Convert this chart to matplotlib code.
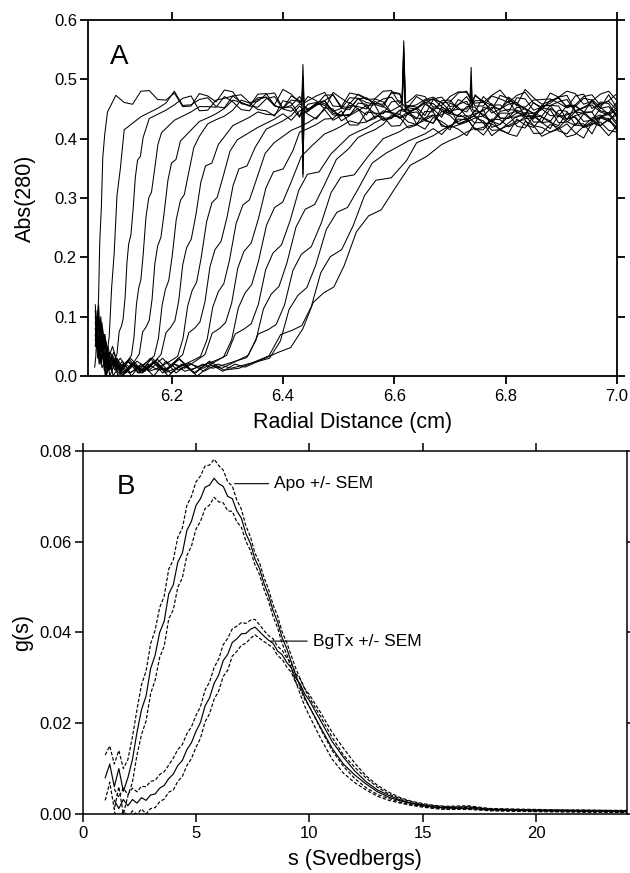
import numpy as np
import matplotlib
matplotlib.use('Agg')
import matplotlib.pyplot as plt

plt.rcParams['font.family'] = ['Liberation Sans', 'DejaVu Sans']

# ---------------- panel A: absorbance scans ----------------
# plateau sample radii (cm); even scans use the first, odd scans the second
grid_even = [6.10, 6.13, 6.16, 6.19, 6.22, 6.25, 6.28, 6.31, 6.34, 6.37, 6.40,
             6.43, 6.46, 6.49, 6.52, 6.55, 6.58, 6.61, 6.64, 6.67, 6.70, 6.73,
             6.76, 6.79, 6.82, 6.85, 6.88, 6.91, 6.94, 6.97, 7.00]
grid_odd = [6.115, 6.145, 6.175, 6.205, 6.235, 6.265, 6.295, 6.325, 6.355,
            6.385, 6.415, 6.445, 6.475, 6.505, 6.535, 6.565, 6.595, 6.625,
            6.655, 6.685, 6.715, 6.745, 6.775, 6.805, 6.835, 6.865, 6.895,
            6.925, 6.955, 6.985, 7.00]

# meniscus + boundary part of each scan
scan_front_r = [
    [6.062, 6.064, 6.0665, 6.069, 6.071, 6.074, 6.0765, 6.080, 6.085],
    [6.063, 6.068, 6.071, 6.075, 6.083, 6.088, 6.0925, 6.097, 6.102, 6.108, 6.115],
    [6.064, 6.068, 6.073, 6.079, 6.085, 6.092, 6.102, 6.110, 6.1165, 6.123, 6.131, 6.139, 6.149],
    [6.064, 6.069, 6.074, 6.080, 6.087, 6.096, 6.109, 6.123, 6.1325, 6.141, 6.149, 6.159, 6.169, 6.182],
    [6.065, 6.070, 6.075, 6.082, 6.090, 6.102, 6.114, 6.126, 6.142, 6.1545, 6.165, 6.175, 6.187, 6.200, 6.216],
    [6.063, 6.067, 6.072, 6.078, 6.086, 6.095, 6.108, 6.124, 6.142, 6.162, 6.1765, 6.189, 6.201, 6.216, 6.230, 6.250],
    [6.064, 6.069, 6.074, 6.081, 6.089, 6.100, 6.115, 6.132, 6.146, 6.159, 6.181, 6.1985, 6.213, 6.227, 6.244, 6.261, 6.284],
    [6.063, 6.068, 6.073, 6.079, 6.087, 6.098, 6.112, 6.128, 6.145, 6.160, 6.175, 6.201, 6.2205, 6.237, 6.253, 6.2725, 6.292, 6.318],
    [6.064, 6.069, 6.075, 6.083, 6.092, 6.106, 6.122, 6.140, 6.158, 6.175, 6.192, 6.220, 6.242, 6.260, 6.278, 6.300, 6.321, 6.350],
    [6.063, 6.068, 6.072, 6.079, 6.086, 6.097, 6.112, 6.130, 6.150, 6.170, 6.190, 6.208, 6.240, 6.264, 6.284, 6.304, 6.328, 6.352, 6.384],
    [6.064, 6.070, 6.076, 6.084, 6.094, 6.110, 6.128, 6.148, 6.168, 6.188, 6.206, 6.224, 6.260, 6.286, 6.308, 6.330, 6.356, 6.383, 6.418],
    [6.063, 6.067, 6.072, 6.080, 6.090, 6.104, 6.122, 6.142, 6.162, 6.184, 6.205, 6.224, 6.241, 6.279, 6.308, 6.332, 6.356, 6.385, 6.414, 6.452],
    [6.064, 6.069, 6.074, 6.082, 6.092, 6.108, 6.126, 6.146, 6.168, 6.190, 6.212, 6.234, 6.257, 6.299, 6.330, 6.356, 6.382, 6.413, 6.444, 6.486],
    [6.063, 6.068, 6.073, 6.081, 6.091, 6.106, 6.124, 6.145, 6.167, 6.190, 6.213, 6.236, 6.256, 6.274, 6.318, 6.3515, 6.379, 6.407, 6.440, 6.474, 6.518],
    [6.064, 6.070, 6.076, 6.085, 6.096, 6.112, 6.131, 6.152, 6.175, 6.198, 6.222, 6.246, 6.270, 6.290, 6.338, 6.3735, 6.403, 6.433, 6.469, 6.504, 6.552],
    [6.063, 6.068, 6.073, 6.080, 6.089, 6.102, 6.118, 6.138, 6.160, 6.184, 6.208, 6.232, 6.258, 6.283, 6.307, 6.357, 6.3955, 6.427, 6.459, 6.497, 6.535, 6.586],
    [6.064, 6.069, 6.075, 6.083, 6.094, 6.108, 6.126, 6.147, 6.170, 6.194, 6.218, 6.243, 6.268, 6.294, 6.321, 6.375, 6.4165, 6.451, 6.485, 6.526, 6.567, 6.622],
    [6.063, 6.068, 6.073, 6.080, 6.090, 6.104, 6.121, 6.142, 6.165, 6.189, 6.214, 6.240, 6.266, 6.292, 6.314, 6.332, 6.392, 6.436, 6.473, 6.510, 6.554, 6.599, 6.658],
]
scan_front_abs = [
    [0.015, 0.033, 0.085, 0.132, 0.224, 0.285, 0.368, 0.407, 0.445],
    [0.07, 0.03, 0.05, 0.014, 0.029, 0.066, 0.150, 0.207, 0.304, 0.349, 0.415],
    [0.11, 0.05, 0.08, 0.02, 0.035, 0.014, 0.037, 0.084, 0.131, 0.222, 0.281, 0.364, 0.402],
    [0.06, 0.10, 0.04, 0.07, 0.01, 0.025, 0.014, 0.028, 0.065, 0.148, 0.204, 0.300, 0.344, 0.410],
    [0.09, 0.03, 0.07, 0.00, 0.03, 0.01, 0.022, 0.014, 0.037, 0.083, 0.129, 0.219, 0.277, 0.359, 0.396],
    [0.12, 0.05, 0.09, 0.03, 0.05, 0.00, 0.02, 0.005, 0.014, 0.028, 0.064, 0.146, 0.201, 0.296, 0.339, 0.404],
    [0.05, 0.09, 0.02, 0.06, 0.01, 0.03, 0.005, 0.02, 0.01, 0.013, 0.036, 0.082, 0.127, 0.216, 0.273, 0.354, 0.390],
    [0.08, 0.03, 0.10, 0.01, 0.04, 0.01, 0.025, 0.0, 0.02, 0.008, 0.013, 0.027, 0.063, 0.144, 0.198, 0.292, 0.334, 0.398],
    [0.10, 0.04, 0.07, 0.0, 0.03, 0.01, 0.025, 0.005, 0.02, 0.01, 0.013, 0.036, 0.081, 0.125, 0.213, 0.269, 0.349, 0.385],
    [0.06, 0.11, 0.04, 0.07, 0.01, 0.03, 0.005, 0.022, 0.008, 0.024, 0.006, 0.013, 0.027, 0.062, 0.142, 0.195, 0.288, 0.330, 0.393],
    [0.08, 0.02, 0.06, 0.01, 0.035, 0.0, 0.02, 0.005, 0.025, 0.01, 0.02, 0.013, 0.036, 0.080, 0.123, 0.210, 0.265, 0.344, 0.380],
    [0.11, 0.05, 0.08, 0.02, 0.04, 0.005, 0.025, 0.01, 0.03, 0.005, 0.02, 0.008, 0.013, 0.026, 0.061, 0.140, 0.193, 0.284, 0.325, 0.388],
    [0.07, 0.12, 0.03, 0.06, 0.01, 0.03, 0.005, 0.02, 0.0, 0.025, 0.01, 0.02, 0.013, 0.035, 0.079, 0.121, 0.207, 0.262, 0.340, 0.374],
    [0.09, 0.04, 0.07, 0.0, 0.03, 0.01, 0.028, 0.005, 0.022, 0.008, 0.03, 0.01, 0.02, 0.013, 0.026, 0.060, 0.138, 0.190, 0.281, 0.321, 0.383],
    [0.10, 0.03, 0.08, 0.01, 0.04, 0.0, 0.02, 0.008, 0.028, 0.005, 0.02, 0.0, 0.018, 0.013, 0.035, 0.078, 0.120, 0.205, 0.258, 0.335, 0.369],
    [0.05, 0.10, 0.02, 0.07, 0.0, 0.03, 0.005, 0.025, 0.01, 0.03, 0.005, 0.022, 0.008, 0.02, 0.013, 0.025, 0.059, 0.136, 0.187, 0.276, 0.315, 0.376],
    [0.08, 0.04, 0.09, 0.02, 0.05, 0.005, 0.03, 0.01, 0.025, 0.0, 0.02, 0.005, 0.025, 0.01, 0.013, 0.034, 0.077, 0.117, 0.201, 0.253, 0.330, 0.363],
    [0.10, 0.05, 0.08, 0.01, 0.04, 0.0, 0.025, 0.005, 0.03, 0.01, 0.028, 0.005, 0.022, 0.008, 0.02, 0.015, 0.040, 0.080, 0.140, 0.186, 0.270, 0.313, 0.370],
]
# jagged points in between the boundary points (scans 0 and 1 are too steep)
scan_teeth_r = [
    [], [],
    [6.106, 6.113, 6.120, 6.127, 6.135, 6.144],
    [6.128, 6.137, 6.145, 6.154, 6.164, 6.1755],
    [6.148, 6.160, 6.170, 6.181, 6.1935, 6.208],
    [6.169, 6.183, 6.195, 6.2085, 6.223, 6.240],
    [6.190, 6.206, 6.220, 6.2355, 6.2525, 6.2725],
    [6.211, 6.229, 6.245, 6.263, 6.282, 6.305],
    [6.231, 6.251, 6.269, 6.289, 6.3105, 6.3355],
    [6.252, 6.274, 6.294, 6.316, 6.340, 6.368],
    [6.273, 6.297, 6.319, 6.343, 6.3695, 6.4005],
    [6.2935, 6.320, 6.344, 6.3705, 6.3995, 6.433],
    [6.3145, 6.343, 6.369, 6.3975, 6.4285, 6.465],
    [6.335, 6.365, 6.393, 6.4235, 6.457, 6.496],
    [6.356, 6.388, 6.418, 6.451, 6.4865, 6.528],
    [6.376, 6.411, 6.443, 6.478, 6.516, 6.5605],
    [6.396, 6.434, 6.468, 6.5055, 6.5465, 6.5945],
    [6.414, 6.4545, 6.4915, 6.532, 6.5765, 6.6285],
]
scan_teeth_abs = [
    [], [],
    [0.075, 0.096, 0.192, 0.238, 0.335, 0.370],
    [0.035, 0.121, 0.163, 0.267, 0.310, 0.390],
    [0.074, 0.094, 0.189, 0.234, 0.330, 0.365],
    [0.034, 0.119, 0.161, 0.264, 0.306, 0.385],
    [0.073, 0.093, 0.187, 0.231, 0.326, 0.359],
    [0.033, 0.118, 0.158, 0.260, 0.301, 0.379],
    [0.073, 0.091, 0.184, 0.227, 0.321, 0.354],
    [0.033, 0.116, 0.156, 0.257, 0.297, 0.375],
    [0.072, 0.090, 0.182, 0.224, 0.317, 0.349],
    [0.032, 0.115, 0.154, 0.254, 0.293, 0.370],
    [0.071, 0.088, 0.179, 0.221, 0.313, 0.344],
    [0.031, 0.113, 0.151, 0.251, 0.289, 0.365],
    [0.071, 0.087, 0.178, 0.218, 0.309, 0.339],
    [0.030, 0.112, 0.149, 0.247, 0.284, 0.359],
    [0.070, 0.085, 0.174, 0.213, 0.304, 0.334],
    [0.048, 0.124, 0.150, 0.243, 0.280, 0.355],
]
# plateau values on the last points of the scan's own grid
scan_plateau_abs = [
    [0.473, 0.458, 0.481, 0.465, 0.454, 0.476, 0.462, 0.479, 0.456, 0.470, 0.483, 0.460, 0.472, 0.455, 0.477, 0.466,
     0.480, 0.459, 0.474, 0.453, 0.471, 0.478, 0.461, 0.482, 0.457, 0.469, 0.463, 0.480, 0.458, 0.475, 0.464],
    [0.437, 0.451, 0.480, 0.457, 0.469, 0.452, 0.474, 0.463, 0.477, 0.456, 0.471, 0.450, 0.468, 0.475, 0.458, 0.479,
     0.454, 0.466, 0.460, 0.477, 0.455, 0.472, 0.461, 0.478, 0.453, 0.470, 0.457, 0.474, 0.464, 0.476],
    [0.434, 0.448, 0.468, 0.447, 0.465, 0.472, 0.455, 0.476, 0.451, 0.463, 0.457, 0.474, 0.452, 0.469, 0.458, 0.475,
     0.450, 0.467, 0.454, 0.471, 0.461, 0.473, 0.456, 0.465, 0.467, 0.452, 0.475, 0.459, 0.448],
    [0.431, 0.445, 0.454, 0.471, 0.449, 0.466, 0.455, 0.472, 0.447, 0.464, 0.451, 0.468, 0.458, 0.470, 0.453, 0.462,
     0.464, 0.449, 0.472, 0.456, 0.445, 0.467, 0.453, 0.470, 0.447, 0.461, 0.474, 0.451],
    [0.429, 0.442, 0.465, 0.455, 0.467, 0.450, 0.459, 0.461, 0.446, 0.469, 0.453, 0.442, 0.464, 0.450, 0.467, 0.444,
     0.458, 0.471, 0.448, 0.460, 0.443, 0.465, 0.454, 0.468, 0.447, 0.462],
    [0.425, 0.438, 0.465, 0.449, 0.438, 0.460, 0.446, 0.463, 0.440, 0.454, 0.467, 0.444, 0.456, 0.439, 0.461, 0.450,
     0.464, 0.443, 0.458, 0.437, 0.455, 0.462, 0.445, 0.466, 0.441, 0.453],
    [0.422, 0.436, 0.441, 0.453, 0.436, 0.458, 0.447, 0.461, 0.440, 0.455, 0.434, 0.452, 0.459, 0.442, 0.463, 0.438,
     0.450, 0.444, 0.461, 0.439, 0.456, 0.445, 0.462, 0.437],
    [0.419, 0.433, 0.431, 0.449, 0.456, 0.439, 0.460, 0.435, 0.447, 0.441, 0.458, 0.436, 0.453, 0.442, 0.459, 0.434,
     0.451, 0.438, 0.455, 0.445, 0.457, 0.440, 0.449],
    [0.416, 0.430, 0.455, 0.433, 0.450, 0.439, 0.456, 0.431, 0.448, 0.435, 0.452, 0.442, 0.454, 0.437, 0.446, 0.448,
     0.433, 0.456, 0.440, 0.429, 0.451, 0.437],
    [0.414, 0.427, 0.449, 0.439, 0.451, 0.434, 0.443, 0.445, 0.430, 0.453, 0.437, 0.426, 0.448, 0.434, 0.451, 0.428,
     0.442, 0.455, 0.432, 0.444, 0.427],
    [0.411, 0.424, 0.434, 0.423, 0.445, 0.431, 0.448, 0.425, 0.439, 0.452, 0.429, 0.441, 0.424, 0.446, 0.435, 0.449,
     0.428, 0.443, 0.422, 0.440],
    [0.408, 0.421, 0.426, 0.438, 0.421, 0.443, 0.432, 0.446, 0.425, 0.440, 0.419, 0.437, 0.444, 0.427, 0.448, 0.423,
     0.435, 0.429, 0.446],
    [0.405, 0.418, 0.434, 0.441, 0.424, 0.445, 0.420, 0.432, 0.426, 0.443, 0.421, 0.438, 0.427, 0.444, 0.419, 0.436,
     0.423],
    [0.402, 0.415, 0.440, 0.418, 0.435, 0.424, 0.441, 0.416, 0.433, 0.420, 0.437, 0.427, 0.439, 0.422, 0.431, 0.433,
     0.418],
    [0.400, 0.412, 0.424, 0.436, 0.419, 0.428, 0.430, 0.415, 0.438, 0.422, 0.411, 0.433, 0.419, 0.436, 0.413],
    [0.396, 0.408, 0.407, 0.429, 0.415, 0.432, 0.409, 0.423, 0.436, 0.413, 0.425, 0.408, 0.430, 0.419],
    [0.393, 0.405, 0.422, 0.405, 0.427, 0.416, 0.430, 0.409, 0.424, 0.403, 0.421, 0.428, 0.411],
    [0.390, 0.403, 0.418, 0.425, 0.408, 0.429, 0.404, 0.416, 0.410, 0.427, 0.405, 0.422],
]
# plateau values half-way between the grid points (read on the other grid)
scan_plateau_mid_abs = [
    [0.461, 0.480, 0.466, 0.477, 0.455, 0.472, 0.482, 0.459, 0.469, 0.457, 0.475, 0.464, 0.478, 0.454, 0.474,
     0.467, 0.481, 0.462, 0.471, 0.456, 0.479, 0.460, 0.473, 0.465, 0.483, 0.458, 0.470, 0.476, 0.463, 0.480],
    [0.444, 0.460, 0.456, 0.466, 0.454, 0.472, 0.461, 0.475, 0.451, 0.471, 0.464, 0.478, 0.459, 0.468,
     0.453, 0.476, 0.457, 0.470, 0.462, 0.480, 0.455, 0.467, 0.473, 0.460, 0.477, 0.452, 0.471, 0.456],
    [0.441, 0.457, 0.472, 0.448, 0.468, 0.461, 0.475, 0.456, 0.465, 0.450, 0.473, 0.454, 0.467, 0.459,
     0.477, 0.452, 0.464, 0.470, 0.457, 0.474, 0.449, 0.468, 0.453, 0.466, 0.460, 0.472, 0.451, 0.463],
    [0.438, 0.454, 0.453, 0.462, 0.447, 0.470, 0.451, 0.464, 0.456, 0.474, 0.449, 0.461, 0.467, 0.454,
     0.471, 0.446, 0.465, 0.450, 0.463, 0.457, 0.469, 0.448, 0.460, 0.473, 0.453, 0.452],
    [0.435, 0.451, 0.461, 0.453, 0.471, 0.446, 0.458, 0.464, 0.451, 0.468, 0.443, 0.462, 0.447, 0.460,
     0.454, 0.466, 0.445, 0.457, 0.470, 0.450, 0.449, 0.468, 0.454, 0.465, 0.443],
    [0.432, 0.448, 0.460, 0.447, 0.464, 0.439, 0.458, 0.443, 0.456, 0.450, 0.462, 0.441, 0.453, 0.466,
     0.446, 0.445, 0.464, 0.450, 0.461, 0.439, 0.456, 0.466, 0.443, 0.453],
    [0.429, 0.445, 0.440, 0.453, 0.447, 0.459, 0.438, 0.450, 0.463, 0.443, 0.442, 0.461, 0.447, 0.458,
     0.436, 0.453, 0.463, 0.440, 0.450, 0.438, 0.456, 0.445, 0.459],
    [0.426, 0.442, 0.447, 0.460, 0.440, 0.439, 0.458, 0.444, 0.455, 0.433, 0.450, 0.460, 0.437, 0.447,
     0.435, 0.453, 0.442, 0.456, 0.432, 0.452, 0.445],
    [0.423, 0.439, 0.441, 0.452, 0.430, 0.447, 0.457, 0.434, 0.444, 0.432, 0.450, 0.439, 0.453, 0.429,
     0.449, 0.442, 0.456, 0.437, 0.446, 0.431, 0.454],
    [0.420, 0.436, 0.431, 0.441, 0.429, 0.447, 0.436, 0.450, 0.426, 0.446, 0.439, 0.453, 0.434, 0.443,
     0.428, 0.451, 0.432, 0.445, 0.437],
    [0.417, 0.433, 0.447, 0.423, 0.443, 0.436, 0.450, 0.431, 0.440, 0.425, 0.448, 0.429, 0.442, 0.434,
     0.452, 0.427, 0.439, 0.445, 0.432],
    [0.414, 0.430, 0.428, 0.437, 0.422, 0.445, 0.426, 0.439, 0.431, 0.449, 0.424, 0.436, 0.442, 0.429,
     0.446, 0.421, 0.440],
    [0.412, 0.427, 0.436, 0.428, 0.446, 0.421, 0.433, 0.439, 0.426, 0.443, 0.418, 0.437, 0.422, 0.435,
     0.429, 0.441],
    [0.409, 0.424, 0.436, 0.423, 0.440, 0.415, 0.434, 0.419, 0.432, 0.426, 0.438, 0.417, 0.429, 0.442,
     0.422],
    [0.406, 0.421, 0.416, 0.429, 0.423, 0.435, 0.414, 0.426, 0.439, 0.419, 0.418, 0.437, 0.423, 0.434],
    [0.402, 0.417, 0.422, 0.435, 0.415, 0.414, 0.433, 0.419, 0.430, 0.408, 0.425, 0.435],
    [0.399, 0.414, 0.416, 0.427, 0.405, 0.422, 0.432, 0.409, 0.419, 0.407, 0.425, 0.414],
    [0.397, 0.411, 0.406, 0.416, 0.404, 0.422, 0.411, 0.425, 0.401, 0.421],
]

# window artefacts (sharp spikes) seen in several scans
spike_scan = [0, 0, 0, 2, 2, 2, 4, 4, 4, 1, 1, 1, 3, 3, 3, 6, 6, 6,
              0, 0, 0, 1, 1, 1, 2, 2, 2, 3, 3, 3, 5, 5, 5,
              0, 0, 0, 2, 2, 2, 4, 4, 4]
spike_r = [6.434, 6.436, 6.438, 6.434, 6.436, 6.438, 6.434, 6.436, 6.438,
           6.434, 6.436, 6.438, 6.434, 6.436, 6.438, 6.434, 6.436, 6.438,
           6.614, 6.617, 6.620, 6.614, 6.617, 6.620, 6.614, 6.617, 6.620,
           6.614, 6.617, 6.620, 6.614, 6.617, 6.620,
           6.736, 6.738, 6.740, 6.736, 6.738, 6.740, 6.736, 6.738, 6.740]
spike_abs = [0.468, 0.525, 0.460, 0.462, 0.505, 0.455, 0.456, 0.490, 0.450,
             0.465, 0.340, 0.462, 0.459, 0.335, 0.455, 0.449, 0.350, 0.445,
             0.468, 0.565, 0.460, 0.465, 0.555, 0.458, 0.462, 0.545, 0.455,
             0.459, 0.530, 0.452, 0.452, 0.515, 0.445,
             0.468, 0.520, 0.460, 0.462, 0.500, 0.455, 0.456, 0.485, 0.450]

# ---------------- panel B: g(s) distributions ----------------
s_values = [1.0, 1.2, 1.4, 1.6, 1.8, 2.0, 2.2, 2.4, 2.6, 2.8,
            3.0, 3.2, 3.4, 3.6, 3.8, 4.0, 4.2, 4.4, 4.6, 4.8,
            5.0, 5.2, 5.4, 5.6, 5.8, 6.0, 6.2, 6.4, 6.6, 6.8,
            7.0, 7.2, 7.4, 7.6, 7.8, 8.0, 8.2, 8.4, 8.6, 8.8,
            9.0, 9.2, 9.4, 9.6, 9.8, 10.0,
            10.5, 11.0, 11.5, 12.0, 12.5, 13.0, 13.5, 14.0, 14.5, 15.0, 15.5, 16.0,
            17, 18, 19, 20, 21, 22, 23, 24]
apo_mean = [0.008, 0.011, 0.006, 0.010, 0.005, 0.008, 0.012, 0.018, 0.023, 0.026,
            0.032, 0.035, 0.040, 0.0425, 0.0485, 0.0505, 0.0555, 0.0575, 0.0625, 0.0645,
            0.068, 0.0695, 0.072, 0.0725, 0.074, 0.0728, 0.0722, 0.0700, 0.0695, 0.0668,
            0.0652, 0.0618, 0.0596, 0.0562, 0.0541, 0.0508, 0.0482, 0.0448, 0.0423, 0.0388,
            0.0365, 0.0335, 0.0306, 0.0280, 0.0256, 0.0236,
            0.0190, 0.0145, 0.0110, 0.0086, 0.0066, 0.0049, 0.0037, 0.0029, 0.0023, 0.0018, 0.0015, 0.0013,
            0.0012, 0.0009, 0.0008, 0.0007, 0.0007, 0.0006, 0.0006, 0.0005]
apo_sem = [0.005, 0.004, 0.005, 0.004, 0.005, 0.004, 0.005, 0.005, 0.0055, 0.0055,
           0.0055, 0.0055, 0.0055, 0.0055, 0.0055, 0.0055, 0.0055, 0.0055, 0.0055, 0.0055,
           0.0052, 0.005, 0.0047, 0.0044, 0.0042, 0.004, 0.0036, 0.0032, 0.0028, 0.0024,
           0.002, 0.0017, 0.0015, 0.0013, 0.0013, 0.0013, 0.0013, 0.0013, 0.0013, 0.0013,
           0.0013, 0.0014, 0.0015, 0.0017, 0.0019, 0.002,
           0.0024, 0.0024, 0.002, 0.0017, 0.0013, 0.001, 0.0007, 0.0005, 0.0004, 0.0003, 0.0003, 0.0003,
           0.0002, 0.0002, 0.0002, 0.0002, 0.0002, 0.0002, 0.0002, 0.0002]
bgtx_mean = [np.nan, np.nan, 0.0030, 0.0012, 0.0032, 0.0018, 0.0032, 0.0024, 0.0036, 0.0030,
             0.0042, 0.0044, 0.0057, 0.0063, 0.0078, 0.0088, 0.0107, 0.0118, 0.0142, 0.0157,
             0.0182, 0.0202, 0.0238, 0.0256, 0.0288, 0.0306, 0.0338, 0.0352, 0.0378, 0.0386,
             0.0397, 0.0398, 0.0407, 0.0412, 0.0402, 0.0392, 0.0383, 0.0376, 0.0359, 0.0351,
             0.0334, 0.0322, 0.0299, 0.0286, 0.0264, 0.0250,
             0.0205, 0.0160, 0.0125, 0.0095, 0.0071, 0.0053, 0.0041, 0.0031, 0.0024, 0.0020, 0.0016, 0.0014,
             0.0016, 0.0010, 0.0009, 0.0008, 0.0007, 0.0007, 0.0006, 0.0006]
bgtx_sem = [np.nan, np.nan, 0.0025, 0.0025, 0.0025, 0.0025, 0.0025, 0.0025, 0.0025, 0.003,
            0.003, 0.003, 0.003, 0.003, 0.003, 0.0035, 0.0035, 0.0035, 0.0035, 0.0035,
            0.0035, 0.0035, 0.0035, 0.0035, 0.0035, 0.0035, 0.0035, 0.0035, 0.003, 0.0028,
            0.0025, 0.0022, 0.002, 0.0017, 0.0015, 0.0012, 0.001, 0.001, 0.001, 0.001,
            0.001, 0.001, 0.001, 0.0011, 0.0012, 0.0013,
            0.0018, 0.002, 0.002, 0.0017, 0.0013, 0.001, 0.0007, 0.0005, 0.0004, 0.0003, 0.0003, 0.0003,
            0.0002, 0.0002, 0.0002, 0.0002, 0.0002, 0.0002, 0.0002, 0.0002]


def style_axes(ax, spine_w):
    for sp in ax.spines.values():
        sp.set_linewidth(spine_w)
    ax.tick_params(direction='out', length=6, width=spine_w, top=True, right=True,
                   labelsize=12, colors='black')
    ax.tick_params(axis='y', pad=2)
    ax.tick_params(axis='x', pad=3)


fig = plt.figure(figsize=(6.3, 8.73), dpi=100)

# ---- A ----
ax1 = fig.add_axes([0.1397, 0.5693, 0.8397, 0.4078])
for k in range(len(scan_front_r)):
    if k % 2 == 0:
        grid, mid_grid = grid_even, grid_odd[:-1]
    else:
        grid, mid_grid = grid_odd, grid_even[:-1]
    tail = scan_plateau_abs[k]
    mids = scan_plateau_mid_abs[k]
    r = (list(scan_front_r[k]) + grid[len(grid) - len(tail):]
         + mid_grid[len(mid_grid) - len(mids):] + list(scan_teeth_r[k]))
    a = list(scan_front_abs[k]) + list(tail) + list(mids) + list(scan_teeth_abs[k])
    for sk, sr, sa in zip(spike_scan, spike_r, spike_abs):
        if sk == k:
            r.append(sr)
            a.append(sa)
    r = np.array(r)
    a = np.array(a)
    order = np.argsort(r, kind='stable')
    ax1.plot(r[order], a[order], color='black', lw=0.75)

ax1.set_xlim(6.05, 7.0)
ax1.set_ylim(0, 0.6)
ax1.set_xticks([6.2, 6.4, 6.6, 6.8, 7.0])
ax1.set_xticklabels(['6.2', '6.4', '6.6', '6.8', '7.0'])
ax1.set_yticks([0.0, 0.1, 0.2, 0.3, 0.4, 0.5, 0.6])
ax1.set_yticklabels(['0.0', '0.1', '0.2', '0.3', '0.4', '0.5', '0.6'])
style_axes(ax1, 1.3)
ax1.set_xlabel('Radial Distance (cm)', fontsize=15.5)
ax1.set_ylabel('Abs(280)', fontsize=15.5)
ax1.xaxis.set_label_coords(0.5, -0.101)
ax1.yaxis.set_label_coords(-0.099, 0.5)
ax1.text(6.089, 0.526, 'A', fontsize=20)

# ---- B ----
ax2 = fig.add_axes([0.131, 0.0676, 0.8643, 0.4158])
s = np.array(s_values)
for mean, sem in [(apo_mean, apo_sem), (bgtx_mean, bgtx_sem)]:
    m = np.array(mean)
    e = np.array(sem)
    ax2.plot(s, m, color='black', lw=0.85)
    ax2.plot(s, m + e, color='black', lw=0.85, dashes=(3, 1.6))
    ax2.plot(s, m - e, color='black', lw=0.85, dashes=(3, 1.6))

ax2.set_xlim(0, 24)
ax2.set_ylim(0, 0.08)
ax2.set_xticks([0, 5, 10, 15, 20])
ax2.set_yticks([0.0, 0.02, 0.04, 0.06, 0.08])
ax2.set_yticklabels(['0.00', '0.02', '0.04', '0.06', '0.08'])
style_axes(ax2, 1.1)
ax2.set_xlabel('s (Svedbergs)', fontsize=15.5)
ax2.set_ylabel('g(s)', fontsize=15.5)
ax2.xaxis.set_label_coords(0.5, -0.097)
ax2.yaxis.set_label_coords(-0.091, 0.5)
ax2.text(1.52, 0.0705, 'B', fontsize=20)

ax2.annotate('Apo +/- SEM', xy=(6.7, 0.0728), xytext=(8.45, 0.0728),
             va='center', fontsize=12.5,
             arrowprops=dict(arrowstyle='-', lw=0.8, color='black', shrinkA=2, shrinkB=0))
ax2.annotate('BgTx +/- SEM', xy=(8.3, 0.0381), xytext=(10.15, 0.0381),
             va='center', fontsize=12.5,
             arrowprops=dict(arrowstyle='-', lw=0.8, color='black', shrinkA=2, shrinkB=0))

fig.savefig('out.png', dpi=100)
